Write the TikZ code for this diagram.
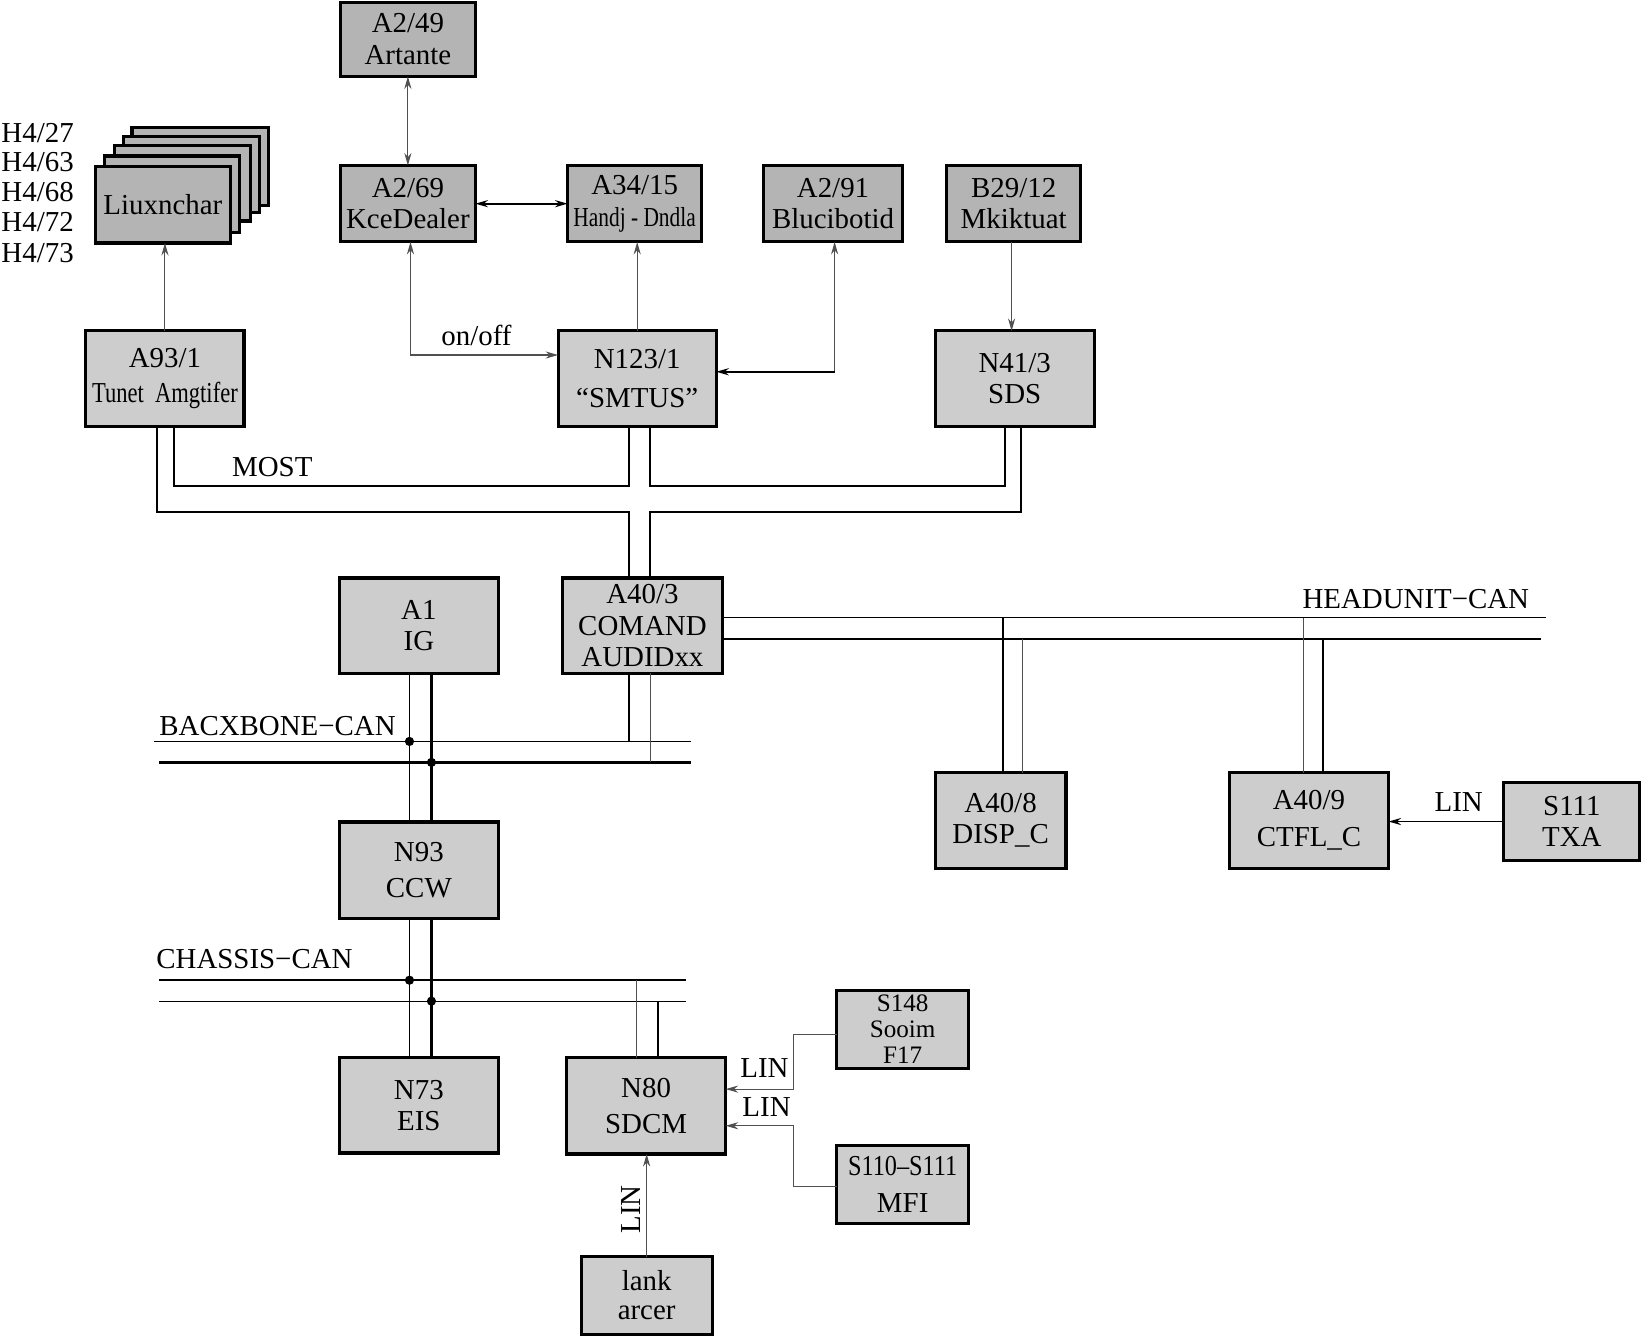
\documentclass[tikz,border=0pt]{standalone}
\usepackage{fontspec}
\setmainfont{Liberation Serif}
\usetikzlibrary{arrows.meta,calc}
\definecolor{fd}{HTML}{B4B4B4}
\definecolor{fl}{HTML}{CDCDCD}
\definecolor{lg}{HTML}{505050}
\tikzset{
 box/.style={draw=black, line width=1.5pt, inner sep=0pt, outer sep=0pt, align=center, font=\fontsize{13.8}{15}\selectfont},
 dbox/.style={box, fill=fd},
 lbox/.style={box, fill=fl},
 lbl/.style={inner sep=0pt, font=\fontsize{13.8}{15}\selectfont},
 tip/.style={-{Stealth[length=6pt,width=3.4pt,inset=2pt]}},
 tipb/.style={{Stealth[length=6pt,width=3.4pt,inset=2pt]}-{Stealth[length=6pt,width=3.4pt,inset=2pt]}},
 thinl/.style={line width=0.5pt, draw=lg},
 medl/.style={line width=0.85pt, draw=black},
 busk/.style={line width=1.1pt, draw=black},
 bust/.style={line width=0.55pt, draw=black},
 dot/.style={circle, fill=black, inner sep=0pt, minimum size=4.4pt},
}
\newcommand\bx[6]{\node[#6, minimum width={((#4)-(#2))*0.5pt}, minimum height={((#5)-(#3))*0.5pt}] (#1) at ({((#2)+(#4))/2},{((#3)+(#5))/2})}
\begin{document}
\begin{tikzpicture}[x=0.5pt,y=-0.5pt]
\useasboundingbox (0,0) rectangle (1568,1276);
% top row
\bx{a249}{325}{2}{454}{73}{dbox}{A2/49\\Artante};
\bx{a269}{325}{158}{454}{231}{dbox}{A2/69\\KceDealer};
\bx{a3415}{542}{158}{670}{231}{dbox}{A34/15\\\scalebox{0.74}[0.95]{Handj - Dndla}};
\bx{a291}{729}{158}{862}{231}{dbox}{A2/91\\Blucibotid};
\bx{b2912}{904}{158}{1032}{231}{dbox}{B29/12\\Mkiktuat};
% stacked lamps
\bx{lx4}{126}{122}{256}{196}{dbox}{};
\bx{lx3}{118}{130}{248}{203}{dbox}{};
\bx{lx2}{109}{139}{239}{211}{dbox}{};
\bx{lx1}{100}{149}{229}{222}{dbox}{};
\bx{lx0}{91}{159}{220}{232}{dbox}{Liuxnchar};
\node[lbl,anchor=west] (h1) at (1,127) {H4/27};
\node[lbl,anchor=west] (h2) at (1,155) {H4/63};
\node[lbl,anchor=west] (h3) at (1,183) {H4/68};
\node[lbl,anchor=west] (h4) at (1,212) {H4/72};
\node[lbl,anchor=west] (h5) at (1,242) {H4/73};
% second row
\bx{a931}{82}{316}{233}{407}{lbox}{A93/1\\[2pt]\scalebox{0.78}[1]{Tunet~~Amgtifer}};
\bx{n1231}{533}{316}{684}{407}{lbox}{N123/1\\[4pt]“SMTUS”};
\bx{n413}{893}{316}{1045}{407}{lbox}{N41/3\\SDS};
% middle
\bx{a1}{324}{552}{476}{643}{lbox}{A1\\IG};
\bx{a403}{537}{552}{690}{643}{lbox}{A40/3\\COMAND\\AUDIDxx};
\bx{n93}{324}{785}{476}{877}{lbox}{N93\\[2pt]CCW};
\bx{a408}{893}{738}{1018}{829}{lbox}{A40/8\\DISP\_C};
\bx{a409}{1174}{738}{1326}{829}{lbox}{A40/9\\[2.5pt]CTFL\_C};
\bx{s111}{1436}{747}{1566}{822}{lbox}{S111\\TXA};
% bottom
\bx{n73}{324}{1010}{476}{1101}{lbox}{N73\\EIS};
\bx{n80}{541}{1010}{693}{1102}{lbox}{N80\\[2.5pt]SDCM};
\bx{s148}{799}{946}{925}{1020}{lbox,font=\fontsize{12}{12.5}\selectfont}{S148\\Sooim\\F17};
\bx{s110}{799}{1094}{925}{1168}{lbox}{\scalebox{0.84}[1]{S110–S111}\\[2.5pt]MFI};
\bx{lank}{555}{1200}{680}{1274}{lbox}{lank\\[-1pt]arcer};

% arrows top
\draw[thinl,tipb] (a249.south) -- (a269.north);
\draw[thinl,tip] (a931.north) -- (a931.north |- lx0.south);
\draw[medl,tipb] (a269.east) -- (a3415.west);
\draw[thinl,tipb] ($(a269.south)+(2.5,0)$) |- ($(n1231.west)+(0,-22.5)$);
\node[lbl] (onoff) at (455,320) {on/off};
\draw[thinl,tip] (n1231.north) -- (n1231.north |- a3415.south);
\coordinate (k1) at ($(a291.south |- n1231.east)+(1.5,-6.5)$);
\draw[thinl,tip] (k1) -- ($(a291.south)+(1.5,0)$);
\draw[medl,tip] (k1) -- ($(n1231.east)+(0,-6.5)$);
\draw[thinl,tip] ($(b2912.south)+(-2,0)$) -- ($(b2912.south |- n413.north)+(-2,0)$);

% MOST
\draw[medl] ($(a931.south)+(8.5,0)$) -- ++(0,57) -| ($(n1231.south)+(-7.5,0)$);
\draw[medl] ($(n1231.south)+(12.5,0)$) -- ++(0,57) -| ($(n413.south)+(-9,0)$);
\draw[medl] ($(a931.south)+(-7.5,0)$) -- ++(0,82) -| ($(a403.north)+(-12.5,0)$);
\draw[medl] ($(n413.south)+(6,0)$) -- ++(0,82) -| ($(a403.north)+(7.5,0)$);
\node[lbl] (most) at (260,446) {MOST};

% BACKBONE CAN
\draw[bust] (147,708) -- (660,708);
\draw[busk] (152,728) -- (660,728);
\node[lbl] (bbl) at (265,693) {BACXBONE−CAN};
\draw[bust] ($(a1.south)+(-9,0)$) -- ($(n93.north)+(-9,0)$);
\draw[busk] ($(a1.south)+(12,0)$) -- ($(n93.north)+(12,0)$);
\node[dot] (d1) at (391,708) {};
\node[dot] (d2) at (412,728) {};
\draw[medl] ($(a403.south)+(-12.5,0)$) -- ++(0,65);
\draw[thinl] ($(a403.south)+(7.5,0)$) -- ++(0,85);

% HEADUNIT CAN
\draw[bust] ($(a403.east)+(0,-7.5)$) -- (1476,590);
\draw[busk] ($(a403.east)+(0,12.5)$) -- (1472,610);
\node[lbl] (hul) at (1352,572) {HEADUNIT−CAN};
\draw[medl] ($(a408.north)+(2.5,0)$) -- ++(0,-148);
\draw[thinl] ($(a408.north)+(20.5,0)$) -- ++(0,-128);
\draw[thinl] ($(a409.north)+(-5,0)$) -- ++(0,-148);
\draw[medl] ($(a409.north)+(13,0)$) -- ++(0,-128);
\draw[medl,tip] (s111.west) -- (s111.west -| a409.east);
\node[lbl] (lin1) at (1393,766) {LIN};

% CHASSIS CAN
\draw[busk] (152,936) -- (655,936);
\draw[bust] (152,956) -- (655,956);
\node[lbl] (chl) at (243,916) {CHASSIS−CAN};
\draw[bust] ($(n93.south)+(-9,0)$) -- ($(n73.north)+(-9,0)$);
\draw[busk] ($(n93.south)+(12,0)$) -- ($(n73.north)+(12,0)$);
\node[dot] (d3) at (391,936) {};
\node[dot] (d4) at (412,956) {};
\draw[thinl] ($(n80.north)+(-9,0)$) -- ++(0,-74);
\draw[medl] ($(n80.north)+(11,0)$) -- ++(0,-54);

% LIN to SDCM
\draw[thinl,tip] ($(s148.west)+(0,5)$) -- ++(-41,0) |- ($(n80.east)+(0,-16)$);
\draw[thinl,tip] ($(s110.west)+(0,2)$) -- ++(-41,0) |- ($(n80.east)+(0,19)$);
\node[lbl] (lin2) at (730,1020) {LIN};
\node[lbl] (lin3) at (732,1057) {LIN};
\draw[thinl,tip] (lank.north) -- (lank.north |- n80.south);
\node[lbl,rotate=90] (lin4) at (603,1155) {LIN};
\end{tikzpicture}
\end{document}
